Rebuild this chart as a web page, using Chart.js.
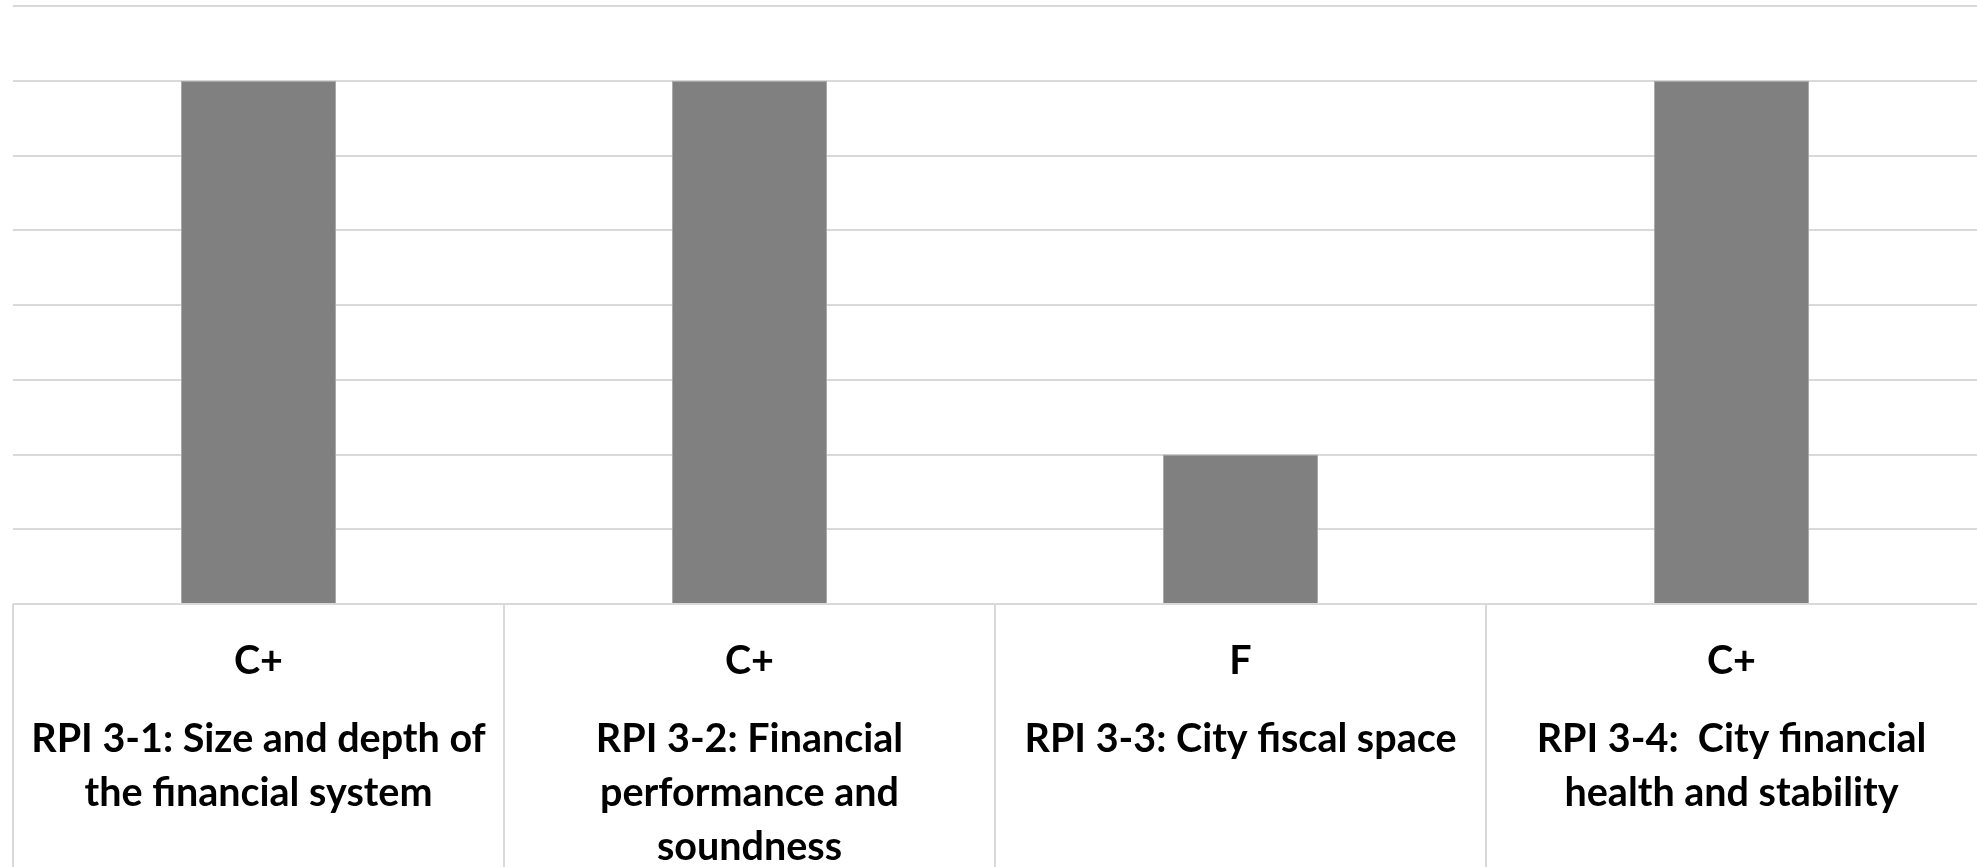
<!DOCTYPE html>
<html>
<head>
<meta charset="utf-8">
<script src="https://cdn.jsdelivr.net/npm/chart.js@4"></script>
<style>
  html, body { margin: 0; padding: 0; background: #fff; }
  #wrap { width: 1977px; height: 867px; }
</style>
</head>
<body>
<div id="wrap"><canvas id="chart"></canvas></div>
<script>
// grade per indicator, and the score that grade maps to on the hidden axis
const grades = ['C+', 'C+', 'F', 'C+'];
const scores = [7, 7, 2, 7];
const indicators = [
    ['RPI 3-1: Size and depth of', 'the financial system'],
    ['RPI 3-2: Financial', 'performance and', 'soundness'],
    ['RPI 3-3: City fiscal space'],
    ['RPI 3-4:  City financial', 'health and stability'],
];
const yTicks = [0, 1, 2, 3, 4, 5, 6, 7, 8];

const gridGrey = '#d9d9d9';

// vertical separators of the label "table" under the plot
const tableLines = {
    id: 'tableLines',
    afterDraw(chart) {
        const x = chart.scales.x;
        const area = chart.chartArea;
        const ctx = chart.ctx;
        ctx.save();
        ctx.strokeStyle = gridGrey;
        ctx.lineWidth = 2;
        for (let i = 0; i < grades.length; i++) {
            let bx = i === 0 ? area.left
                : (x.getPixelForValue(i - 1) + x.getPixelForValue(i)) / 2;
            bx = Math.round(bx);
            ctx.beginPath();
            ctx.moveTo(bx, area.bottom);
            ctx.lineTo(bx, chart.height);
            ctx.stroke();
        }
        ctx.restore();
    }
};

new Chart(document.getElementById('chart'), {
    type: 'bar',
    data: {
        labels: grades,
        datasets: [{
            data: scores,
            backgroundColor: '#808080',
            borderColor: '#a6a6a6',
            borderWidth: 1,
            barPercentage: 0.316,
            categoryPercentage: 1,
        }],
    },
    options: {
        responsive: true,
        maintainAspectRatio: false,
        animation: false,
        events: [],
        layout: { padding: { left: 13, right: -12, top: 6, bottom: 0 } },
        plugins: {
            legend: { display: false },
            tooltip: { enabled: false },
        },
        scales: {
            y: {
                min: yTicks[0],
                max: yTicks[yTicks.length - 1],
                afterBuildTicks: (s) => { s.ticks = yTicks.map(v => ({ value: v })); },
                afterFit: (s) => { s.width = 0; },
                ticks: { display: false },
                border: { display: false },
                grid: { color: gridGrey, lineWidth: 2, drawTicks: false },
            },
            x: {
                position: 'bottom',
                afterFit: (s) => { s.height = 75; },
                grid: { display: false },
                border: { display: false },
                ticks: {
                    color: '#000',
                    font: { family: 'Lato', weight: 'bold', size: 39.5, lineHeight: 1.0 },
                    padding: 30,
                    maxRotation: 0,
                    autoSkip: false,
                },
            },
            x2: {
                type: 'category',
                position: 'bottom',
                labels: indicators,
                offset: true,
                afterFit: (s) => { s.height = 188; },
                grid: { display: false },
                border: { display: false },
                ticks: {
                    color: '#000',
                    font: { family: 'Lato', weight: 'bold', size: 39.5, lineHeight: 1.37 },
                    padding: 25,
                    maxRotation: 0,
                    autoSkip: false,
                },
            },
        },
    },
    plugins: [tableLines],
});
</script>
</body>
</html>
